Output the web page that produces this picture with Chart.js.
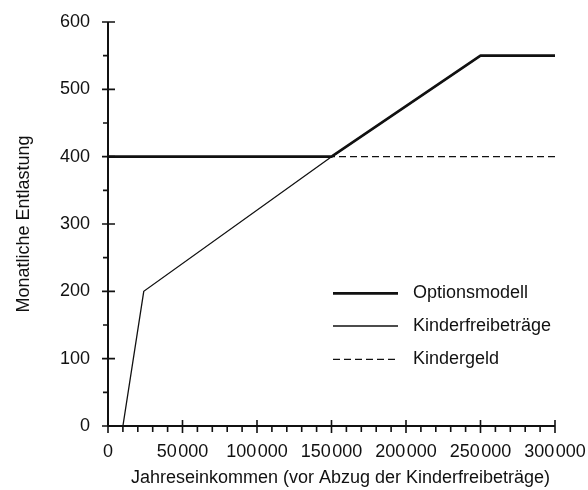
<!DOCTYPE html>
<html>
<head>
<meta charset="utf-8">
<script src="https://cdn.jsdelivr.net/npm/chart.js@4/dist/chart.umd.min.js"></script>
<style>
html,body{margin:0;padding:0;background:#fff;}
#wrap{width:588px;height:490px;}
</style>
</head>
<body>
<div id="wrap"><canvas id="c" width="588" height="490"></canvas></div>
<script>
// ---- data ----
const seriesNames = ['Optionsmodell', 'Kinderfreibeträge', 'Kindergeld'];
const optionsX = [0, 150000, 250000, 300000];
const optionsY = [400, 400, 550, 550];
const freibetragX = [10000, 24000, 150000, 250000, 300000];
const freibetragY = [0, 200, 400, 550, 550];
const kindergeldX = [0, 300000];
const kindergeldY = [400, 400];
const xTickLabels = ['0', '50\u200A000', '100\u200A000', '150\u200A000', '200\u200A000', '250\u200A000', '300\u200A000'];
const yTickLabels = ['0', '100', '200', '300', '400', '500', '600'];
const xTitle = 'Jahreseinkommen (vor Abzug der Kinderfreibeträge)';
const yTitle = 'Monatliche Entlastung';

const FONT = '"Liberation Sans", Arial, Helvetica, sans-serif';
const FS = 18;
const INK = '#111';

function pts(xs, ys){ return xs.map((x,i)=>({x:x, y:ys[i]})); }

const axisPlugin = {
  id: 'axisPlugin',
  afterDatasetsDraw(chart){
    const ctx = chart.ctx;
    const xs = chart.scales.x, ys = chart.scales.y;
    const x0 = xs.getPixelForValue(0), x1 = xs.getPixelForValue(300000);
    const y0 = ys.getPixelForValue(0), y1 = ys.getPixelForValue(600);
    ctx.save();
    ctx.strokeStyle = INK;
    ctx.lineWidth = 2;
    ctx.beginPath();
    ctx.moveTo(x0, y1); ctx.lineTo(x0, y0);
    ctx.moveTo(x0, y0); ctx.lineTo(x1, y0);
    ctx.stroke();
    ctx.lineWidth = 1.6;
    ctx.beginPath();
    for (let v = 0; v <= 300000; v += 10000) {
      const p = xs.getPixelForValue(v);
      if (v % 50000 === 0) { ctx.moveTo(p, y0 - 6); ctx.lineTo(p, y0 + 7); }
      else { ctx.moveTo(p, y0); ctx.lineTo(p, y0 + 6); }
    }
    for (let v = 0; v <= 600; v += 50) {
      const p = ys.getPixelForValue(v);
      if (v % 100 === 0) { ctx.moveTo(x0 - 6, p); ctx.lineTo(x0 + 7, p); }
      else { ctx.moveTo(x0 - 5, p); ctx.lineTo(x0, p); }
    }
    ctx.stroke();
    // x-axis title (slightly right of the plot centre, as in the reference)
    ctx.fillStyle = INK;
    ctx.font = FS + 'px ' + FONT;
    ctx.textAlign = 'center';
    ctx.textBaseline = 'middle';
    ctx.fillText(xTitle, (x0 + x1) / 2 + 9, 478);
    ctx.restore();
  }
};

const legendPlugin = {
  id: 'legendPlugin',
  afterDraw(chart){
    const ctx = chart.ctx;
    const ys = chart.scales.y;
    const lx0 = 333, lx1 = 398, tx = 413;
    const rows = [ys.getPixelForValue(197), ys.getPixelForValue(148.5), ys.getPixelForValue(99)];
    ctx.save();
    chart.data.datasets.forEach((ds, i) => {
      const y = rows[i];
      ctx.strokeStyle = ds.borderColor;
      ctx.lineWidth = ds.borderWidth;
      ctx.setLineDash(ds.borderDash || []);
      ctx.beginPath(); ctx.moveTo(lx0, y); ctx.lineTo(lx1, y); ctx.stroke();
      ctx.setLineDash([]);
      ctx.fillStyle = INK;
      ctx.font = FS + 'px ' + FONT;
      ctx.textBaseline = 'middle';
      ctx.textAlign = 'left';
      ctx.fillText(ds.label, tx, y);
    });
    ctx.restore();
  }
};

new Chart(document.getElementById('c'), {
  type: 'line',
  data: {
    datasets: [
      { label: seriesNames[0], data: pts(optionsX, optionsY), borderColor: INK, borderWidth: 2.6, pointRadius: 0, borderJoinStyle: 'round', fill: false, tension: 0 },
      { label: seriesNames[1], data: pts(freibetragX, freibetragY), borderColor: INK, borderWidth: 1.3, pointRadius: 0, fill: false, tension: 0 },
      { label: seriesNames[2], data: pts(kindergeldX, kindergeldY), borderColor: INK, borderWidth: 1.4, borderDash: [7, 4], pointRadius: 0, fill: false, tension: 0 }
    ]
  },
  options: {
    responsive: false,
    animation: false,
    events: [],
    layout: { padding: { top: 22, right: 33, left: 0, bottom: 0 } },
    plugins: { legend: { display: false }, tooltip: { enabled: false } },
    scales: {
      x: {
        type: 'linear', min: 0, max: 300000,
        afterFit(s){ s.height = 64; s.paddingLeft = 0; s.paddingRight = 0; },
        afterBuildTicks(s){ s.ticks = xTickLabels.map((_, i) => ({ value: i * 50000 })); },
        grid: { display: true, drawOnChartArea: false, drawTicks: false, color: 'rgba(0,0,0,0)' },
        border: { display: false },
        ticks: { color: INK, font: { family: FONT, size: FS }, padding: 15, maxRotation: 0, autoSkip: false,
                 callback: (v, i) => xTickLabels[i] },
        title: { display: false }
      },
      y: {
        type: 'linear', min: 0, max: 600,
        afterFit(s){ s.width = 108; s.paddingTop = 0; s.paddingBottom = 0; },
        afterBuildTicks(s){ s.ticks = yTickLabels.map((_, i) => ({ value: i * 100 })); },
        grid: { display: true, drawOnChartArea: false, drawTicks: false, color: 'rgba(0,0,0,0)' },
        border: { display: false },
        ticks: { color: INK, font: { family: FONT, size: FS }, padding: 18, autoSkip: false,
                 callback: (v, i) => yTickLabels[i] },
        title: { display: true, text: yTitle, color: INK, font: { family: FONT, size: FS }, padding: { top: 13, bottom: 0 } }
      }
    }
  },
  plugins: [axisPlugin, legendPlugin]
});
</script>
</body>
</html>
